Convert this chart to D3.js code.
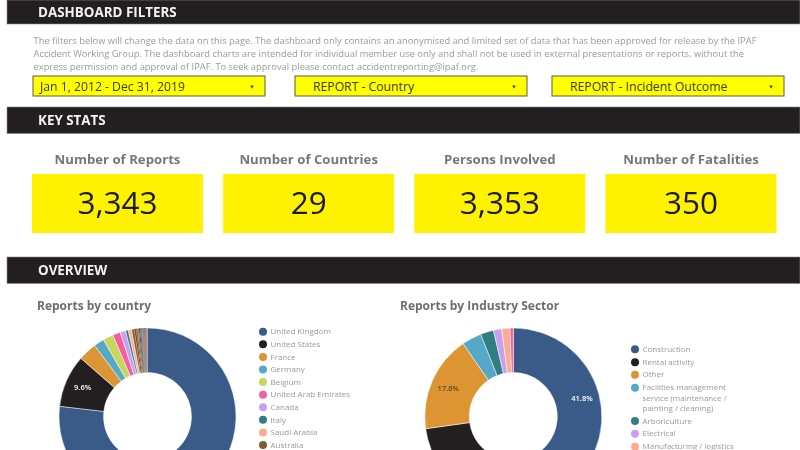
<!DOCTYPE html>
<html>
<head>
<meta charset="utf-8">
<script src="https://cdn.jsdelivr.net/npm/d3@7.9.0/dist/d3.min.js"></script>
<style>
  html, body { margin: 0; padding: 0; background: #fff; overflow: hidden; }
  svg { display: block; font-family: "Open Sans", sans-serif; filter: blur(0.55px); }
</style>
</head>
<body>
<svg id="chart" width="800" height="450"></svg>
<script>
// values
const sectionTitles = ['DASHBOARD FILTERS', 'KEY STATS', 'OVERVIEW'];
const introLines = [
  'The filters below will change the data on this page. The dashboard only contains an anonymised and limited set of data that has been approved for release by the IPAF',
  'Accident Working Group. The dashboard charts are intended for individual member use only and shall not be used in external presentations or reports, without the',
  'express permission and approval of IPAF. To seek approval please contact accidentreporting@ipaf.org.'
];
const filterLabels = ['Jan 1, 2012 - Dec 31, 2019', 'REPORT - Country', 'REPORT - Incident Outcome'];
const statLabels = ['Number of Reports', 'Number of Countries', 'Persons Involved', 'Number of Fatalities'];
const statValues = [3343, 29, 3353, 350];

const countryLabels = ['United Kingdom', 'United States', 'France', 'Germany', 'Belgium', 'United Arab Emirates', 'Canada', 'Italy', 'Saudi Arabia', 'Australia'];
const countryValues = [77.0, 9.6, 3.4, 1.9, 1.9, 1.4, 1.0, 0.5, 0.6, 0.5];
// the other 19 countries are thin slices, the legend is cut off before them
const smallCountryValues = [0.3, 0.3, 0.25, 0.2, 0.2, 0.15, 0.15, 0.1, 0.1, 0.1, 0.1, 0.08, 0.08, 0.06, 0.06, 0.05, 0.05, 0.04, 0.03];

const sectorLabels = ['Construction', 'Rental activity', 'Other', 'Facilities management service (maintenance / painting / cleaning)', 'Arboriculture', 'Electrical', 'Manufacturing / logistics'];
const sectorValues = [41.8, 31.0, 17.6, 3.6, 2.4, 1.5, 1.5, 0.6];

const countryColors = ['#3a5b87', '#231f20', '#dd9432', '#55a9c6', '#c8d75c', '#f45e9f', '#c99ff0', '#2f7f80', '#ffaa91', '#7c5d32',
  '#a8323c', '#5c8f3c', '#a9852e', '#8b2f70', '#3f6fb0', '#b5542c', '#4f9a6c', '#9c3f8f', '#6a7a2c', '#c24a5c',
  '#2f5f3f', '#8f6a2a', '#b03a7a', '#5a4fa0', '#7a9a3a', '#a05030', '#4a8a8a', '#c060a0', '#6060c0'];
const sectorColors = ['#3a5b87', '#231f20', '#dd9432', '#55a9c6', '#2f7f80', '#c99ff0', '#ffaa91', '#f45e9f'];

const svg = d3.select('#chart');

// section bars
const barTops = [0, 107, 257];
const barHeights = [24, 26.5, 26.5];
sectionTitles.forEach((title, i) => {
  svg.append('rect').attr('x', 7).attr('y', barTops[i]).attr('width', 793).attr('height', barHeights[i])
    .attr('fill', '#231f20').attr('stroke', '#8a8a8a').attr('stroke-width', 0.6);
  svg.append('text').attr('x', 38).attr('y', barTops[i] + barHeights[i] / 2 + 4.5)
    .attr('fill', '#f2f2f2').attr('font-size', 13.4).attr('font-weight', 700)
    .text(title);
});

// intro text
const introY = d3.scalePoint().domain(d3.range(introLines.length)).range([43.5, 69.5]);
svg.selectAll('.intro').data(introLines).join('text')
  .attr('class', 'intro')
  .attr('x', 33.5).attr('y', (d, i) => introY(i))
  .attr('fill', '#9a9a9a').attr('font-size', 9.35)
  .text(d => d);

// filter dropdowns
const filterX = [33, 295, 552];
const filterTextX = [40, 313, 570];
filterLabels.forEach((label, i) => {
  svg.append('rect').attr('x', filterX[i]).attr('y', 76).attr('width', 232).attr('height', 20)
    .attr('fill', '#ffff00').attr('stroke', '#5c5c4a').attr('stroke-width', 1);
  svg.append('text').attr('x', filterTextX[i]).attr('y', 90.5)
    .attr('fill', '#3a3a20').attr('font-size', 12.2).text(label);
  svg.append('path')
    .attr('d', d3.symbol(d3.symbolTriangle, 6))
    .attr('transform', `translate(${filterX[i] + 219},86.5) rotate(180)`)
    .attr('fill', '#444');
});

// key stats
const statX = d3.scalePoint().domain(d3.range(statLabels.length)).range([32, 605.5]);
const fmt = d3.format(',');
statLabels.forEach((label, i) => {
  const x = statX(i);
  svg.append('rect').attr('x', x).attr('y', 174).attr('width', 171).attr('height', 59).attr('fill', '#fff200');
  svg.append('text').attr('x', x + 85.5).attr('y', 164).attr('text-anchor', 'middle')
    .attr('fill', '#777').attr('font-size', 13.2).attr('font-weight', 700).text(label);
  svg.append('text').attr('x', x + 85.5).attr('y', 214).attr('text-anchor', 'middle')
    .attr('fill', '#1a1a1a').attr('font-size', 31.5).text(fmt(statValues[i]));
});

function drawDonut(title, titleX, cx, values, colors) {
  svg.append('text').attr('x', titleX).attr('y', 310)
    .attr('fill', '#6e6e6e').attr('font-size', 12).attr('font-weight', 700).text(title);

  const g = svg.append('g').attr('transform', `translate(${cx},416.5)`);
  const pie = d3.pie().sort(null).value(d => d);
  const arc = d3.arc().innerRadius(44).outerRadius(88.5);
  const labelArc = d3.arc().innerRadius(71).outerRadius(71);
  const arcs = pie(values);
  const color = d3.scaleOrdinal(d3.range(colors.length), colors);

  g.selectAll('path').data(arcs).join('path')
    .attr('d', arc)
    .attr('fill', (d, i) => color(i))
    .attr('stroke', '#fff').attr('stroke-width', d => d.value < 0.4 ? 0 : 0.5);

  // labels for big slices, the ones that land below the fold are left out
  g.selectAll('text').data(arcs.filter(d => d.value >= 5 && labelArc.centroid(d)[1] < 20)).join('text')
    .attr('transform', d => `translate(${labelArc.centroid(d)})`)
    .attr('text-anchor', 'middle').attr('dy', '0.35em')
    .attr('fill', d => d.index === 2 ? '#5a4a2a' : '#fff')
    .attr('font-size', 7.5).attr('font-weight', 600)
    .text(d => d3.format('.1f')(d.value) + '%');
}

function drawLegend(labels, colors, x, ys, wrapped) {
  labels.forEach((label, i) => {
    svg.append('circle').attr('cx', x).attr('cy', ys[i]).attr('r', 4).attr('fill', colors[i]);
    const lines = wrapped[label] || [label];
    lines.forEach((line, k) => {
      svg.append('text').attr('x', x + 7.5).attr('y', ys[i] + 2.7 + k * 10.3)
        .attr('fill', '#999').attr('font-size', 8).text(line);
    });
  });
}

drawDonut('Reports by country', 37, 147.5, countryValues.concat(smallCountryValues), countryColors);
drawDonut('Reports by Industry Sector', 400, 513.3, sectorValues, sectorColors);

const countryY = d3.scalePoint().domain(countryLabels).range([331.7, 445]);
drawLegend(countryLabels, countryColors, 263, countryLabels.map(c => countryY(c)), {});

const sectorY = [349.3, 362.3, 374.7, 387.7, 421, 433.7, 446.7];
drawLegend(sectorLabels, sectorColors, 635, sectorY, {
  [sectorLabels[3]]: ['Facilities management', 'service (maintenance /', 'painting / cleaning)']
});
</script>
</body>
</html>
